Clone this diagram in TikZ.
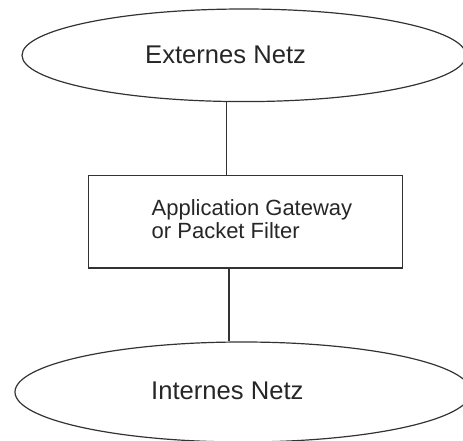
\documentclass[tikz,border=0pt]{standalone}
\usepackage{fontspec}
\setmainfont{Liberation Sans}
\usetikzlibrary{shapes.geometric}
\begin{document}
\begin{tikzpicture}[x=1pt,y=-1pt,
  lineclr/.style={draw=black!80,line width=1.2pt},
  netz/.style={lineclr,ellipse,inner sep=0pt},
  bigtxt/.style={inner sep=0pt,anchor=base west,font=\fontsize{25.6}{30}\selectfont,text=black!85},
  boxtxt/.style={inner sep=0pt,anchor=base west,align=left,font=\fontsize{22}{23.3}\selectfont,text=black!85}]
\useasboundingbox (0,0) rectangle (463,441);
\node[netz,minimum width=444pt,minimum height=92.6pt] (ext) at (244,55.3) {};
\node[bigtxt] (extlabel) at (145,63.3) {Externes Netz};
\node[lineclr,rectangle,minimum width=314.4pt,minimum height=92.3pt,inner sep=0pt] (gw) at (245.5,221.85) {};
\node[boxtxt] (gwlabel) at (151.5,238.3) {Application Gateway\\or Packet Filter};
\node[netz,minimum width=456pt,minimum height=100pt] (int) at (243,392) {};
\node[bigtxt] (intlabel) at (151,399.3) {Internes Netz};
\coordinate (c1) at (226.7,0);
\coordinate (c2) at (229,0);
\draw[lineclr] (c1 |- ext.south) -- (c1 |- gw.north);
\draw[lineclr] (c2 |- gw.south) -- (c2 |- int.north);
\end{tikzpicture}
\end{document}
